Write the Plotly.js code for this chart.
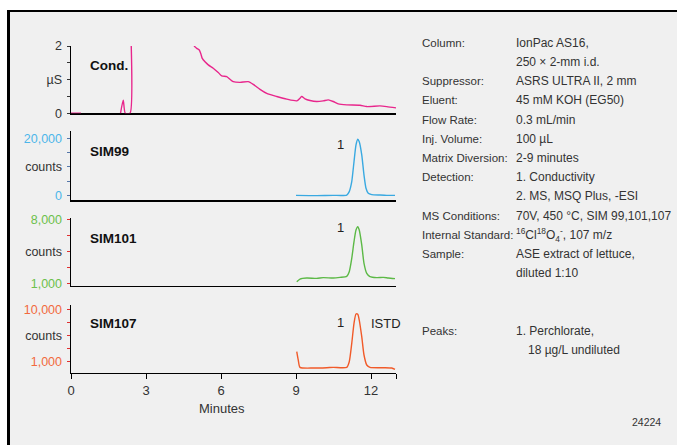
<!DOCTYPE html>
<html>
<head>
<meta charset="utf-8">
<script src="https://cdn.plot.ly/plotly-3.0.1.min.js"></script>
<style>
  html, body { margin: 0; padding: 0; background: #ffffff; }
  #frame { position: absolute; left: 7px; top: 10px; width: 700px; height: 460px;
           background: #f0f0f0; border-left: 3px solid #000; border-top: 2px solid #000; }
  #chart { position: absolute; left: 0; top: 0; width: 677px; height: 445px; }
</style>
</head>
<body>
<div id="frame"></div>
<div id="chart"></div>
<script>
// ---- Data ----
const condTime  = [0, 0.4, 0.41, 1.98, 2.09, 2.17, 2.36, 2.41, 2.42,
  4.92, 5.03, 5.13, 5.19, 5.25, 5.36, 5.49, 5.69, 5.89, 6.03, 6.23, 6.36, 6.49, 6.76, 7.09, 7.29,
  7.56, 7.83, 8.23, 8.63, 9.03, 9.16, 9.23, 9.36, 9.56, 9.83, 10.09, 10.29, 10.49, 10.69, 11.03,
  11.56, 11.83, 12.36, 12.63, 13.0];
const condValue = [0, 0, null, 0, 0.39, 0, 0, 2.0, null,
  2.0, 1.93, 1.88, 1.78, 1.63, 1.53, 1.44, 1.34, 1.21, 1.11, 1.09, 1.01, 0.94, 0.92, 0.94, 0.86,
  0.71, 0.59, 0.50, 0.42, 0.37, 0.45, 0.50, 0.43, 0.38, 0.35, 0.37, 0.40, 0.35, 0.28, 0.25,
  0.24, 0.20, 0.22, 0.20, 0.16];

const sim99Time  = [9.0, 9.83, 10.49, 11.03, 11.13, 11.23, 11.32, 11.40, 11.47, 11.53, 11.63, 11.72, 11.80, 11.89, 12.03, 12.36, 12.63, 12.96];
const sim99Value = [0, -100, 0, 100, 1300, 4800, 11800, 17700, 19700, 18800, 14200, 7100, 2500, 700, 250, 100, 0, 0];

const sim101Time  = [9.03, 9.16, 9.43, 9.83, 10.09, 10.49, 10.76, 11.03, 11.13, 11.23, 11.32, 11.40, 11.47, 11.53, 11.63, 11.72, 11.83, 11.96, 12.23, 12.49, 12.69, 12.96];
const sim101Value = [1180, 1480, 1590, 1550, 1630, 1590, 1660, 1770, 2290, 3760, 5600, 6890, 7260, 6890, 5240, 3210, 2100, 1740, 1630, 1660, 1590, 1520];

const sim107Time  = [9.03, 9.09, 9.16, 9.69, 10.23, 10.49, 11.03, 11.13, 11.23, 11.32, 11.40, 11.47, 11.53, 11.63, 11.72, 11.83, 11.96, 12.49, 12.83, 12.96];
const sim107Value = [2720, 1290, 30, -90, -30, 30, 30, 1000, 4150, 7590, 9190, 9140, 8160, 5300, 2150, 430, 30, -30, -90, -320];

const xTickVals = [0, 3, 6, 9, 12, 13];
const xTickText = ['0', '3', '6', '9', '12', ''];

const traceNames = ['Cond.', 'SIM99', 'SIM101', 'SIM107'];
const peakLabels = ['', '1', '1', '1'];
const istdLabel = 'ISTD';
const xTitle = 'Minutes';

const condTicks   = {vals: [0, 1, 2], text: ['0', 'µS', '2']};
const sim99Ticks  = {vals: [0, 10000, 20000], text: ['0', 'counts', '20,000']};
const sim101Ticks = {vals: [1000, 4500, 8000], text: ['1,000', 'counts', '8,000']};
const sim107Ticks = {vals: [1000, 5500, 10000], text: ['1,000', 'counts', '10,000']};

const paramLabels = ['Column:', '', 'Suppressor:', 'Eluent:', 'Flow Rate:', 'Inj. Volume:',
  'Matrix Diversion:', 'Detection:', '', 'MS Conditions:', 'Internal Standard:', 'Sample:', '', '', '', 'Peaks:', ''];
const paramValues = ['IonPac AS16,', '250 × 2-mm i.d.', 'ASRS ULTRA II, 2 mm', '45 mM KOH (EG50)',
  '0.3 mL/min', '100 µL', '2-9 minutes', '1. Conductivity', '2. MS, MSQ Plus, -ESI',
  '70V, 450 °C, SIM 99,101,107',
  '<sup>16</sup>Cl<sup>18</sup>O<sub>4</sub><sup>-</sup>, 107 m/z',
  'ASE extract of lettuce,', 'diluted 1:10', '', '', '1. Perchlorate,', '\u2002\u200218 µg/L undiluted'];
const figureId = '24224';

// ---- Styling ----
const FONT = '"Liberation Sans", Arial, sans-serif';
const colors = ['#e8268c', '#39a9e1', '#5cb946', '#f15a29'];
const labelColors = ['#333333', '#4cb6ea', '#6cc04b', '#f26a3d'];
const tickColors = ['#333333', '#5577aa', '#e03030', '#e03030'];
const H = 445, L = 71, R = 396;
const py2paper = p => 1 - p / H;
const px2paper = p => (p - L) / (R - L);

const panels = [
  {t: condTime, v: condValue, top: 46, bot: 113.3, range: [0, 2], ticks: condTicks, minor: [0.5, 1.5]},
  {t: sim99Time, v: sim99Value, top: 131, bot: 200, range: [-1640, 22580], ticks: sim99Ticks, minor: [5000, 15000]},
  {t: sim101Time, v: sim101Value, top: 218.3, bot: 285.7, range: [742, 8184], ticks: sim101Ticks, minor: [2750, 6250]},
  {t: sim107Time, v: sim107Value, top: 305, bot: 372.7, range: [-891, 10741], ticks: sim107Ticks, minor: [3250, 7750]}
];

const data = [];
const layout = {
  width: 677, height: 445,
  margin: {l: L, r: 677 - R, t: 0, b: 0},
  paper_bgcolor: 'rgba(0,0,0,0)', plot_bgcolor: 'rgba(0,0,0,0)',
  showlegend: false,
  font: {family: FONT, size: 12, color: '#333333'},
  annotations: []
};

panels.forEach((p, i) => {
  const n = i === 0 ? '' : String(i + 1);
  data.push({
    x: p.t, y: p.v, type: 'scatter', mode: 'lines', connectgaps: false,
    line: {color: colors[i], width: 1.4, shape: 'spline', smoothing: 0.6},
    xaxis: 'x' + n, yaxis: 'y' + n, hoverinfo: 'skip'
  });
  const isBottom = i === 3;
  layout['xaxis' + n] = {
    domain: [0, 1], range: [0, 13], anchor: 'y' + n,
    showline: true, linecolor: '#000', linewidth: 1.5, showgrid: false, zeroline: false,
    layer: i === 0 ? 'below traces' : 'above traces',
    ticks: isBottom ? 'outside' : '', ticklen: 5, tickcolor: '#000', tickwidth: 1,
    tickmode: 'array', tickvals: isBottom ? xTickVals : [], ticktext: isBottom ? xTickText : [],
    showticklabels: isBottom, tickfont: {size: 13, color: '#333'},
    ticklabelstandoff: 0, fixedrange: true
  };
  if (i > 0) layout['xaxis' + n].matches = 'x';
  const tt = p.ticks.text.map((s, k) => (k === 1) ? s :
    '<span style="color:' + labelColors[i] + '">' + s + '</span>');
  layout['yaxis' + n] = {
    domain: [py2paper(p.bot), py2paper(p.top)], range: p.range, anchor: 'x' + n,
    showline: true, linecolor: '#000', linewidth: 1.5, showgrid: false, zeroline: false,
    ticks: 'outside', ticklen: 3, tickcolor: tickColors[i], tickwidth: 1,
    tickmode: 'array', tickvals: p.ticks.vals, ticktext: tt,
    tickfont: {size: 12.5, color: '#333'}, ticklabelstandoff: 2,
    minor: {tickmode: 'array', tickvals: p.minor, ticks: 'outside', ticklen: 3, tickcolor: tickColors[i]},
    fixedrange: true
  };
  // panel name
  layout.annotations.push({
    xref: 'paper', yref: 'paper', x: px2paper(88), y: py2paper([65, 151.7, 238, 323][i]),
    xanchor: 'left', yanchor: 'middle', showarrow: false,
    text: '<b>' + traceNames[i] + '</b>', font: {size: 13.5, color: '#111'}
  });
  if (peakLabels[i]) {
    layout.annotations.push({
      xref: 'paper', yref: 'paper', x: px2paper(340.7), y: py2paper([0, 144, 227.7, 322.3][i]),
      xanchor: 'center', yanchor: 'middle', showarrow: false,
      text: peakLabels[i], font: {size: 13, color: '#222'}
    });
  }
});

layout.annotations.push({
  xref: 'paper', yref: 'paper', x: px2paper(386), y: py2paper(323.3),
  xanchor: 'center', yanchor: 'middle', showarrow: false, text: istdLabel, font: {size: 13, color: '#222'}
});
layout.annotations.push({
  xref: 'x4', yref: 'paper', x: 6.05, y: py2paper(408.5),
  xanchor: 'center', yanchor: 'middle', showarrow: false, text: xTitle, font: {size: 13, color: '#333'}
});

paramLabels.forEach((s, k) => {
  const yy = py2paper(42.7 + k * 19.2);
  if (s) layout.annotations.push({xref: 'paper', yref: 'paper', x: px2paper(420), y: yy,
    xanchor: 'left', yanchor: 'middle', showarrow: false, text: s, font: {size: 11.5, color: '#333'}});
  if (paramValues[k]) layout.annotations.push({xref: 'paper', yref: 'paper', x: px2paper(514), y: yy,
    xanchor: 'left', yanchor: 'middle', showarrow: false, text: paramValues[k], font: {size: 12, color: '#333'}});
});
layout.annotations.push({
  xref: 'paper', yref: 'paper', x: px2paper(646.7), y: py2paper(421.7),
  xanchor: 'center', yanchor: 'middle', showarrow: false, text: figureId, font: {size: 10.5, color: '#333'}
});

Plotly.newPlot('chart', data, layout, {staticPlot: true, displayModeBar: false});
</script>
</body>
</html>
